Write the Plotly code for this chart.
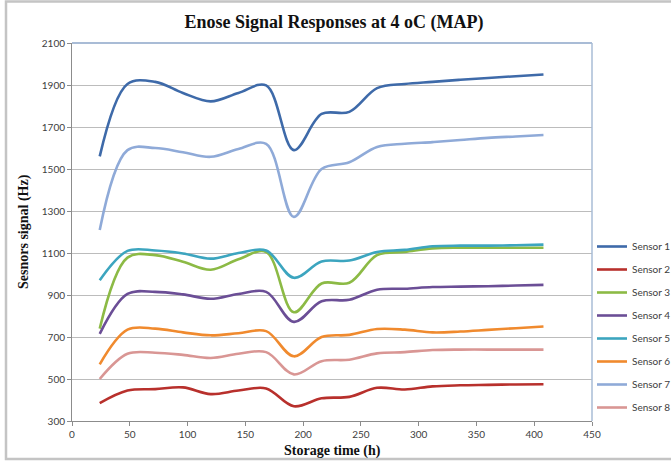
import plotly.graph_objects as go

hours = [24, 48, 72, 96, 120, 144, 168, 192, 216, 240, 264, 288, 312, 336, 360, 384, 408]

sensor1 = [1560, 1905, 1915, 1862, 1822, 1862, 1898, 1590, 1762, 1772, 1885, 1905, 1915, 1925, 1933, 1942, 1950]
sensor2 = [385, 445, 452, 460, 428, 445, 455, 370, 408, 415, 458, 450, 465, 470, 472, 474, 475]
sensor3 = [740, 1078, 1090, 1058, 1020, 1070, 1105, 818, 955, 958, 1090, 1105, 1122, 1125, 1125, 1125, 1125]
sensor4 = [715, 905, 915, 903, 882, 905, 915, 772, 870, 877, 925, 930, 938, 940, 942, 945, 948]
sensor5 = [970, 1110, 1112, 1098, 1073, 1100, 1112, 982, 1060, 1064, 1105, 1115, 1132, 1135, 1135, 1137, 1140]
sensor6 = [570, 735, 740, 722, 708, 718, 728, 608, 700, 710, 738, 735, 722, 726, 734, 742, 750]
sensor7 = [1210, 1590, 1600, 1580, 1558, 1595, 1620, 1272, 1500, 1532, 1605, 1620, 1628, 1638, 1648, 1655, 1662]
sensor8 = [500, 620, 625, 615, 600, 620, 628, 522, 585, 592, 622, 628, 638, 640, 640, 640, 640]

series_names = ["Sensor 1", "Sensor 2", "Sensor 3", "Sensor 4",
                "Sensor 5", "Sensor 6", "Sensor 7", "Sensor 8"]
series_values = [sensor1, sensor2, sensor3, sensor4, sensor5, sensor6, sensor7, sensor8]
series_colors = ["#3e6aa9", "#b8302c", "#8cba45", "#6b4e96",
                 "#3ca5bf", "#f08a2e", "#8faad8", "#d99694"]

x_ticks = [0, 50, 100, 150, 200, 250, 300, 350, 400, 450]
y_ticks = [300, 500, 700, 900, 1100, 1300, 1500, 1700, 1900, 2100]

fig = go.Figure()
for i, (name, vals, col) in enumerate(zip(series_names, series_values, series_colors)):
    fig.add_trace(go.Scatter(
        x=hours, y=vals, name=name, mode="lines",
        line=dict(color=col, width=2.6, shape="spline", smoothing=1.0),
        legendgroup=name,
    ))

tick_font = dict(family="Lato, Liberation Sans, sans-serif", size=10, color="#404040")

fig.update_layout(
    width=671, height=465,
    margin=dict(l=72, r=79, t=43, b=44, autoexpand=False),
    paper_bgcolor="white", plot_bgcolor="white",
    title=dict(text="<b>Enose Signal Responses at 4 oC (MAP)</b>",
               font=dict(family="Liberation Serif, Times New Roman, serif", size=18, color="#111111"),
               x=0.504, xref="paper", xanchor="center",
               y=1 - 22 / 465, yref="container", yanchor="middle"),
    showlegend=True,
    legend=dict(x=1.0, xanchor="left", y=0.5, yanchor="top",
                font=dict(family="Lato, Liberation Sans, sans-serif", size=10, color="#404040"),
                tracegroupgap=4, itemwidth=30, bgcolor="rgba(0,0,0,0)"),
    xaxis=dict(range=[0, 450], tickvals=x_ticks, ticktext=[str(v) for v in x_ticks],
               showgrid=False, zeroline=False, showline=True, linecolor="#8c8c8c", linewidth=1,
               ticks="outside", ticklen=4, tickcolor="#8c8c8c", tickfont=tick_font),
    yaxis=dict(range=[300, 2100], tickvals=y_ticks, ticktext=[str(v) for v in y_ticks],
               showgrid=True, gridcolor="#bcbcbc", gridwidth=1, zeroline=False,
               showline=True, linecolor="#8c8c8c", linewidth=1,
               ticks="outside", ticklen=4, tickcolor="#8c8c8c", tickfont=tick_font),
    annotations=[
        dict(text="<b>Sesnors signal (Hz)</b>", xref="paper", yref="paper",
             x=(24 - 72) / 520, y=0.5, xanchor="center", yanchor="middle",
             textangle=-90, showarrow=False,
             font=dict(family="Liberation Serif, Times New Roman, serif", size=14, color="#111111")),
        dict(text="<b>Storage time (h)</b>", xref="paper", yref="paper",
             x=0.5, y=(421 - 451) / 378, xanchor="center", yanchor="middle",
             showarrow=False,
             font=dict(family="Liberation Serif, Times New Roman, serif", size=14, color="#111111")),
    ],
    shapes=[
        dict(type="line", xref="paper", yref="paper", x0=0, x1=1, y0=1, y1=1,
             line=dict(color="#a9bcd6", width=2)),
        dict(type="line", xref="paper", yref="paper", x0=1, x1=1, y0=0, y1=1,
             line=dict(color="#a9bcd6", width=1.5)),
        dict(type="rect", xref="paper", yref="paper",
             x0=(6 - 72) / 520, x1=(680 - 72) / 520,
             y0=(421 - 459) / 378, y1=(421 - 1.5) / 378,
             line=dict(color="#c4c4c4", width=2.5), fillcolor="rgba(0,0,0,0)", layer="below"),
    ],
)

fig.write_html("out.html", config={"displayModeBar": False})

# remove the browser's default body margin so the figure sits at the page origin
with open("out.html", "r", encoding="utf-8") as f:
    html = f.read()
html = html.replace("<body>", '<body style="margin:0;padding:0;overflow:hidden">', 1)
with open("out.html", "w", encoding="utf-8") as f:
    f.write(html)
